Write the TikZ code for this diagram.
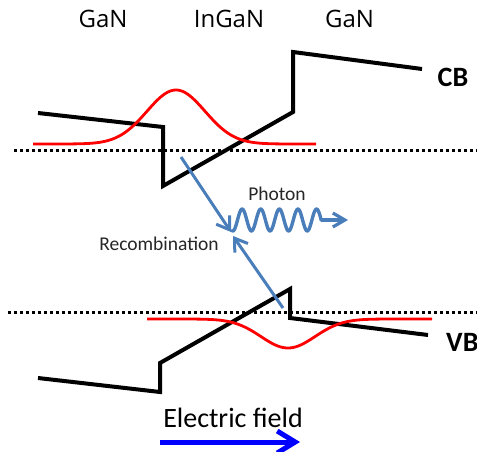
\documentclass[tikz,border=0pt]{standalone}
\usepackage{fontspec}
\setmainfont{Carlito}
\newfontfamily\labfont{Open Sans}
\usetikzlibrary{arrows.meta}
\definecolor{photblue}{HTML}{4A7EBB}
\begin{document}
\begin{tikzpicture}[x=1pt,y=-1pt,
  band/.style={line width=4pt, line join=miter, black},
  dens/.style={line width=2.8pt, red},
  level/.style={line width=3pt, dash pattern=on 3pt off 3pt, black},
  recomb/.style={line width=3pt, photblue, -{Straight Barb[length=12pt,width=16pt,line width=3pt]}},
  toplab/.style={font=\labfont\fontsize{24}{27}\selectfont, inner sep=0pt},
  smalllab/.style={font=\fontsize{19.5}{22}\selectfont, inner sep=0pt, text=black!85},
  bandlab/.style={font=\bfseries\fontsize{28}{32}\selectfont, inner sep=0pt}]
\useasboundingbox (0,0) rectangle (477,452);
% labels
\node[toplab] (gan1) at (103,19) {GaN};
\node[toplab] (ingan) at (229,19) {InGaN};
\node[toplab] (gan2) at (349.5,19) {GaN};
% dotted levels
\coordinate (cbl0) at (14,150);
\coordinate (cbl1) at (477,150);
\coordinate (vbl0) at (8,312);
\coordinate (vbl1) at (477,312);
\draw[level] (cbl0) -- (cbl1);
\draw[level] (vbl0) -- (vbl1);
% conduction band
\coordinate (c1) at (38,113);
\coordinate (c2) at (163,127);
\coordinate (c3) at (163,186);
\coordinate (c4) at (293,112);
\coordinate (c5) at (293,52);
\coordinate (c6) at (422,69);
\draw[band] (c1) -- (c2) -- (c3) -- (c4) -- (c5) -- (c6);
% valence band
\coordinate (v1) at (38,378);
\coordinate (v2) at (160,392);
\coordinate (v3) at (160,363);
\coordinate (v4) at (290,289);
\coordinate (v5) at (290,318);
\coordinate (v6) at (428,335);
\draw[band] (v1) -- (v2) -- (v3) -- (v4) -- (v5) -- (v6);
% wave functions
\draw[dens] plot[domain=33:316, samples=120, smooth] (\x, {144 - 54*exp(-0.5*((\x-176)/29)^2)});
\draw[dens] plot[domain=147:432, samples=120, smooth] (\x, {319 + 29*exp(-0.5*((\x-288)/27)^2)});
\node[bandlab, anchor=center] (cb) at (453,77) {CB};
\node[bandlab, anchor=west] (vb) at (446,342) {VB};
% recombination
\coordinate (e1) at (181,157);
\coordinate (m1) at (231,232);
\coordinate (h1) at (283,308);
\coordinate (m2) at (233,236);
\draw[recomb] (e1) -- (m1);
\draw[recomb] (h1) -- (m2);
% photon
\coordinate (wend) at (321.3,220);
\coordinate (ptip) at (348,220);
\draw[line width=3.4pt, photblue, line cap=round, line join=round]
  plot[domain=232:321.3, samples=120, smooth] (\x, {220 - 11*sin(19.355*(\x-237.5))});
\draw[line width=3.2pt, photblue, -{Straight Barb[length=12pt,width=14pt,line width=3.2pt]}] (wend) -- (ptip);
\node[smalllab, anchor=base] (photon) at (277,200) {Photon};
\node[smalllab, anchor=base] (recomb) at (159,250) {Recombination};
% electric field
\node[smalllab, font=\fontsize{28}{32}\selectfont, anchor=base, text=black] (ef) at (233,427) {Electric field};
\coordinate (f0) at (160,442);
\coordinate (f1) at (300,442);
\draw[line width=5pt, blue, -{Straight Barb[length=18pt,width=22pt,line width=5pt]}] (f0) -- (f1);
\end{tikzpicture}
\end{document}
